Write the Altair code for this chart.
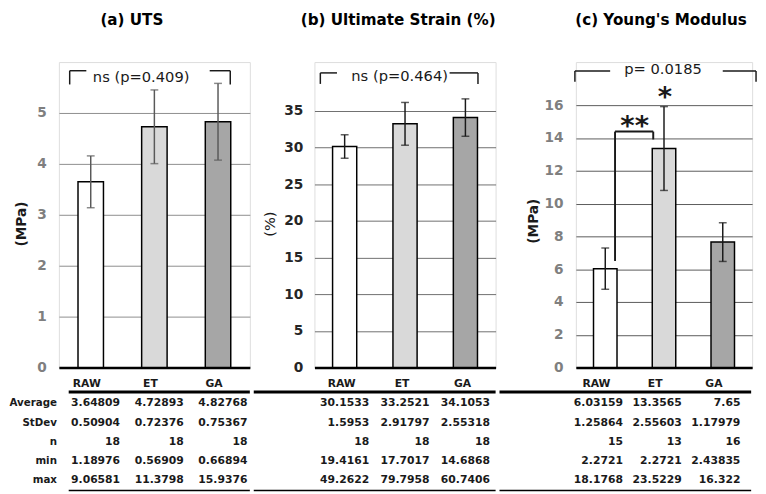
import altair as alt
import pandas as pd

# ---------------- data ----------------
groups = ["RAW", "ET", "GA"]
row_names = ["Average", "StDev", "n", "min", "max"]

uts_avg = [3.64809, 4.72893, 4.82768]
uts_sd = [0.50904, 0.72376, 0.75367]
uts_n = [18, 18, 18]
uts_min = [1.18976, 0.56909, 0.66894]
uts_max = [9.06581, 11.3798, 15.9376]

strain_avg = [30.1533, 33.2521, 34.1053]
strain_sd = [1.5953, 2.91797, 2.55318]
strain_n = [18, 18, 18]
strain_min = [19.4161, 17.7017, 14.6868]
strain_max = [49.2622, 79.7958, 60.7406]

mod_avg = [6.03159, 13.3565, 7.65]
mod_sd = [1.25864, 2.55603, 1.17979]
mod_n = [15, 13, 16]
mod_min = [2.2721, 2.2721, 2.43835]
mod_max = [18.1768, 23.5229, 16.322]

uts_ticks = [0, 1, 2, 3, 4, 5]
strain_ticks = [0, 5, 10, 15, 20, 25, 30, 35]
mod_ticks = [0, 2, 4, 6, 8, 10, 12, 14, 16]

# ---------------- styling ----------------
FONT = "DejaVu Sans"
H = 312
ONE = pd.DataFrame({"k": [0]})
FILLS = ["#ffffff", "#d9d9d9", "#a6a6a6"]


def make_panel(title, ylabel, avg, sd, n, mn, mx, ticks, o, with_rows=False):
    W = o["width"]
    bar_df = pd.DataFrame({
        "group": groups,
        "avg": avg,
        "lo": [a - s for a, s in zip(avg, sd)],
        "hi": [a + s for a, s in zip(avg, sd)],
    })
    xscale = alt.Scale(domain=groups, paddingInner=0.6, paddingOuter=0.3)
    xaxis = alt.Axis(labels=False, ticks=False, title=None, grid=False,
                     domainColor="black", domainWidth=2.5)
    X = alt.X("group:N", scale=xscale, axis=xaxis)
    yscale = alt.Scale(domain=[0, o["top"]], nice=False)
    yaxis = alt.Axis(values=ticks, title=ylabel, grid=True, gridColor=o["grid"],
                     gridWidth=1, domain=False, ticks=False, tickSize=0,
                     labelOverlap=False, labelSeparation=0,
                     labelPadding=o["lpad"], labelFont=FONT, labelFontSize=14,
                     labelFontWeight="bold", labelColor=o["lcolor"],
                     titleFont=FONT, titleFontSize=o["tsize"],
                     titleFontWeight=o["tweight"], titleColor="#1a1a1a",
                     titleX=o["titleX"], titleY=o["titleY"],
                     minExtent=o["ext"], maxExtent=o["ext"])
    Y = alt.Y("avg:Q", scale=yscale, axis=yaxis)
    base = alt.Chart(bar_df)
    bars = base.mark_bar(stroke="black", strokeWidth=1.5).encode(
        x=X, y=Y,
        fill=alt.Fill("group:N", scale=alt.Scale(domain=groups, range=FILLS), legend=None),
    )
    err = base.mark_rule(color=o["ecolor"], strokeWidth=1.5).encode(
        x=X, y=alt.Y("lo:Q", scale=yscale, axis=yaxis), y2="hi:Q")
    cap_lo = base.mark_tick(color=o["ecolor"], size=8, thickness=1.5).encode(
        x=X, y=alt.Y("lo:Q", scale=yscale, axis=yaxis))
    cap_hi = base.mark_tick(color=o["ecolor"], size=8, thickness=1.5).encode(
        x=X, y=alt.Y("hi:Q", scale=yscale, axis=yaxis))

    annots = []
    for (x1, x2, y1, y2, sw) in o["segs"]:
        annots.append(alt.Chart(ONE).mark_rule(color="#1a1a1a", strokeWidth=sw).encode(
            x=alt.value(x1), x2=alt.value(x2),
            y=alt.YDatum(y1, scale=yscale, axis=yaxis), y2=alt.datum(y2)))
    for (txt, tx, ty, fs, fw, bl) in o["texts"]:
        annots.append(alt.Chart(ONE).mark_text(
            text=txt, font=FONT, fontSize=fs, fontWeight=fw, align="center",
            baseline=bl, color="#1a1a1a").encode(
            x=alt.value(tx), y=alt.YDatum(ty, scale=yscale, axis=yaxis)))

    plot = alt.layer(bars, err, cap_lo, cap_hi, *annots)

    # ---- table under the plot ----
    rows = []
    for i, g in enumerate(groups):
        for r, vals in enumerate([avg, sd, n, mn, mx], start=1):
            rows.append({"group": g, "row": r, "text": str(vals[i])})
    tval = pd.DataFrame(rows)
    tscale = alt.Scale(domain=[0, 5], range=[H + 17, H + 115])
    values = alt.Chart(tval).mark_text(
        font=FONT, fontSize=11, fontWeight="bold", align="right", baseline="middle",
        color="#1a1a1a", dx=o["vdx"]).encode(
        x=X, y=alt.Y("row:Q", scale=tscale, axis=None), text="text:N")
    header = alt.Chart(pd.DataFrame({"group": groups, "row": [0, 0, 0]})).mark_text(
        font=FONT, fontSize=11, fontWeight="bold", align="center", baseline="middle",
        color="#1a1a1a", dx=o["hdx"]).encode(
        x=X, y=alt.Y("row:Q", scale=tscale, axis=None), text="group:N")
    line_top = alt.Chart(ONE).mark_rule(color="black", strokeWidth=3).encode(
        x=alt.value(o["lx0"]), x2=alt.value(o["lx1"]),
        y=alt.YDatum(0.41, scale=tscale, axis=None))
    line_bot = alt.Chart(ONE).mark_rule(color="black", strokeWidth=1.5).encode(
        x=alt.value(o["lx0"]), x2=alt.value(o["lx1"]),
        y=alt.YDatum(5.54, scale=tscale, axis=None))
    tlayers = [header, values, line_top, line_bot]
    if with_rows:
        lab = alt.Chart(pd.DataFrame({"row": [1, 2, 3, 4, 5], "label": row_names})).mark_text(
            font=FONT, fontSize=10.5, fontWeight="bold", align="right", baseline="middle",
            color="#1a1a1a").encode(
            x=alt.value(-2), y=alt.Y("row:Q", scale=tscale, axis=None), text="label:N")
        tlayers.append(lab)
    table = alt.layer(*tlayers)

    return alt.layer(plot, table).resolve_scale(y="independent").properties(
        width=W, height=H,
        title=alt.TitleParams(title, font=FONT, fontSize=15.5, fontWeight="bold",
                              color="black", anchor="middle", frame="group",
                              dx=o["tdx"], offset=22, baseline="alphabetic"),
    )


opt_a = dict(width=195, top=6.0, grid="#8c8c8c", lcolor="#7f7f7f", lpad=13, tsize=14,
             tweight="bold", titleX=-31, titleY=165, ext=50, ecolor="#595959",
             vdx=30, hdx=-4, lx0=10, lx1=195, tdx=-23,
             segs=[(11, 11, 5.56, 5.83, 1.5), (11, 28, 5.83, 5.83, 1.5),
                   (154, 175, 5.83, 5.83, 1.5), (175, 175, 5.83, 5.56, 1.5)],
             texts=[("ns (p=0.409)", 84, 5.71, 15, "normal", "middle")])
opt_b = dict(width=185, top=41.68, grid="#6e6e6e", lcolor="#262626", lpad=12, tsize=15,
             tweight="normal", titleX=-38, titleY=165, ext=62, ecolor="#1a1a1a",
             vdx=25, hdx=-3, lx0=-62, lx1=185, tdx=-7,
             segs=[(6, 6, 38.7, 40.2, 1.5), (6, 23, 40.2, 40.2, 1.5),
                   (138, 167, 40.2, 40.2, 1.5), (167, 167, 40.2, 38.7, 1.5)],
             texts=[("ns (p=0.464)", 87, 39.8, 15, "normal", "middle")])
opt_c = dict(width=180, top=18.63, grid="#595959", lcolor="#7f7f7f", lpad=13, tsize=14,
             tweight="bold", titleX=-36, titleY=162, ext=78, ecolor="#1a1a1a",
             vdx=18, hdx=-9, lx0=-78, lx1=179, tdx=-3,
             segs=[(-1, -1, 17.43, 18.09, 1.5), (-1, 35, 18.09, 18.09, 1.5),
                   (150, 184, 18.09, 18.09, 1.5), (184, 184, 18.09, 17.43, 1.5),
                   (40, 40, 6.5, 14.39, 2), (40, 79, 14.39, 14.39, 2),
                   (79, 79, 14.39, 13.91, 2)],
             texts=[("p= 0.0185", 89, 18.2, 15, "normal", "middle"),
                    ("**", 60, 14.16, 28, "bold", "alphabetic"),
                    ("*", 91, 15.95, 28, "bold", "alphabetic")])

pa = make_panel("(a) UTS", "(MPa)", uts_avg, uts_sd, uts_n, uts_min, uts_max,
                uts_ticks, opt_a, with_rows=True)
pb = make_panel("(b) Ultimate Strain (%)", "(%)", strain_avg, strain_sd, strain_n,
                strain_min, strain_max, strain_ticks, opt_b)
pc = make_panel("(c) Young's Modulus", "(MPa)", mod_avg, mod_sd, mod_n, mod_min, mod_max,
                mod_ticks, opt_c)

chart = alt.hconcat(pa, pb, pc, spacing=0).properties(padding=0).configure_view(
    stroke=None).configure_axis(labelOverlap=False).configure(background="white")

chart.save("out.html", embed_options={"renderer": "svg", "actions": False})
